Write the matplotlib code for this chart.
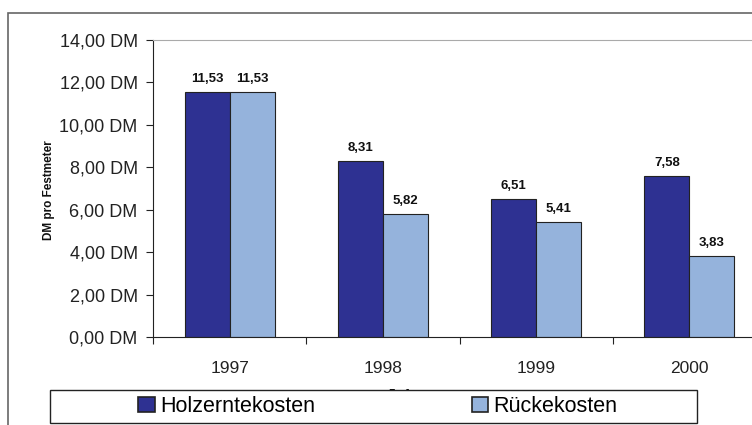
import matplotlib
matplotlib.use("Agg")
import matplotlib.pyplot as plt
from matplotlib.patches import Rectangle
import numpy as np

plt.rcParams['font.family'] = ['Liberation Sans', 'DejaVu Sans']

years = ['1997', '1998', '1999', '2000']
holzernte = [11.53, 8.31, 6.51, 7.58]
ruecke = [11.53, 5.82, 5.41, 3.83]
yticks = [0, 2, 4, 6, 8, 10, 12, 14]

W, H = 752, 425
fig = plt.figure(figsize=(W / 100, H / 100), dpi=100)
# plot area runs past the right edge, as in the cropped original
ax = fig.add_axes([153 / W, (H - 337) / H, 613 / W, 297 / H])

x = np.arange(len(years))
bw = 0.294
dark = '#2E3192'
light = '#95B3DC'
b1 = ax.bar(x - bw / 2, holzernte, bw, color=dark, edgecolor='#222222', linewidth=0.8,
            label='Holzerntekosten')
b2 = ax.bar(x + bw / 2, ruecke, bw, color=light, edgecolor='#222222', linewidth=0.8,
            label='Rückekosten')

for bars, vals in ((b1, holzernte), (b2, ruecke)):
    for r, v in zip(bars, vals):
        ax.annotate(f'{v:.2f}'.replace('.', ','), (r.get_x() + r.get_width() / 2, v),
                    xytext=(0, 5), textcoords='offset points', ha='center', va='bottom',
                    fontsize=9.5, fontweight='bold', color='#111111')

ax.set_xlim(-0.5, 3.5)
ax.set_ylim(0, 14)
ax.set_yticks(yticks)
ax.set_yticklabels([f'{v:.2f}'.replace('.', ',') + ' DM' for v in yticks])
ax.set_xticks(np.arange(-0.5, 4, 1))
ax.set_xticklabels([])
ax.set_xticks(x, minor=True)
ax.set_xticklabels(years, minor=True)
ax.tick_params(axis='x', which='minor', length=0, pad=17, labelsize=12.5, labelcolor='#222222')
ax.tick_params(axis='x', which='major', length=5, direction='out', color='#222222')
ax.tick_params(axis='y', length=5, direction='out', pad=6, labelsize=13, labelcolor='#222222',
               color='#222222')

ax.spines['right'].set_visible(False)
ax.spines['top'].set_color('#aaaaaa')
ax.spines['left'].set_color('#222222')
ax.spines['bottom'].set_color('#222222')

fig.text(49 / W, 1 - 190 / H, 'DM pro Festmeter', rotation=90, ha='center', va='center',
         fontsize=8.5, fontweight='bold', color='#111111')
fig.text(405 / W, 1 - 398 / H, 'Jahr', ha='center', va='center', fontsize=13,
         fontweight='bold', color='#111111')

# outer chart border
fig.patches.append(Rectangle((8 / W, -0.1), 1.2, (H - 13) / H + 0.1, transform=fig.transFigure,
                             fill=False, edgecolor='#666666', linewidth=1.2))
# legend box
fig.patches.append(Rectangle((50 / W, (H - 423) / H), 647 / W, 33 / H, transform=fig.transFigure,
                             facecolor='white', edgecolor='#222222', linewidth=1, zorder=5))
leg = fig.legend(handles=[b1, b2], loc='center', bbox_to_anchor=(378 / W, (H - 406.5) / H),
                 ncol=2, frameon=False, fontsize=15.5, handlelength=0.75, handleheight=0.75,
                 handletextpad=0.25, columnspacing=7.3, borderpad=0)
leg.set_zorder(6)
for h in leg.legend_handles:
    h.set_edgecolor('#222222')
    h.set_linewidth(1.2)

fig.savefig('out.png', dpi=100)
